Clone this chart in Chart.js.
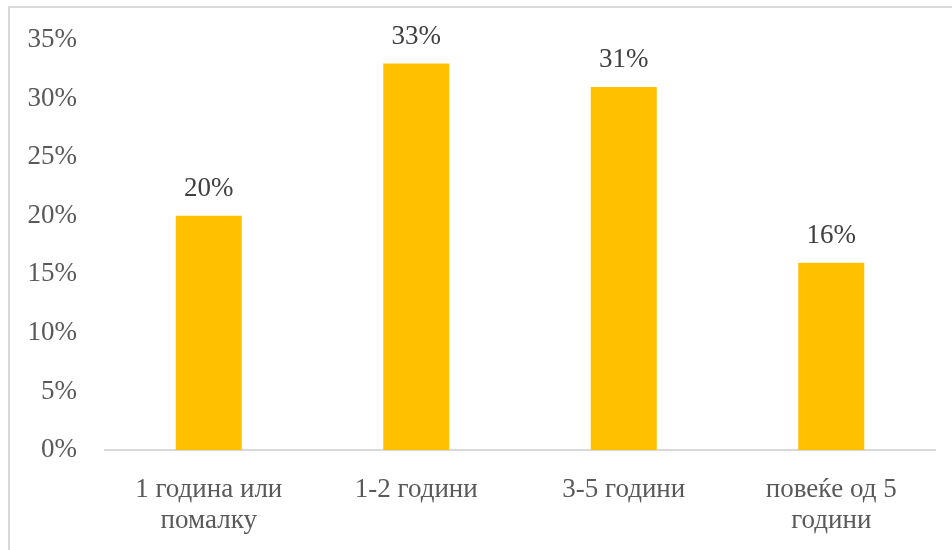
<!DOCTYPE html>
<html>
<head>
<meta charset="utf-8">
<script src="https://cdn.jsdelivr.net/npm/chart.js@4"></script>
<style>
  body { margin: 0; overflow: hidden; background: #fff; }
  #wrap { position: relative; width: 952px; height: 550px; }
  #frame { position: absolute; left: 8px; top: 6px; width: 960px; height: 560px; border: 2px solid #d9d9d9; }
  canvas { position: absolute; left: 0; top: 0; }
</style>
</head>
<body>
<div id="wrap">
  <div id="frame"></div>
  <canvas id="myChart" width="952" height="550"></canvas>
</div>
<script>
'use strict';
let categories = [['1 година или', 'помалку'], '1-2 години', '3-5 години', ['повеќе од 5', 'години']];
let shares = [20, 33, 31, 16];
let yTicks = [0, 5, 10, 15, 20, 25, 30, 35];

let fontFamily = '"Liberation Serif", "Times New Roman", serif';

// value labels above each bar
let barLabels = {
    id: 'barLabels',
    afterDatasetsDraw(chart) {
        let ctx = chart.ctx;
        let meta = chart.getDatasetMeta(0);
        ctx.save();
        ctx.font = '27px ' + fontFamily;
        ctx.fillStyle = '#404040';
        ctx.textAlign = 'center';
        ctx.textBaseline = 'middle';
        meta.data.forEach(function (bar, i) {
            ctx.fillText(shares[i] + '%', bar.x, bar.y - 27);
        });
        ctx.restore();
    }
};

let ctx = document.getElementById('myChart').getContext('2d');
let myChart = new Chart(ctx, {
    type: 'bar',
    data: {
        labels: categories,
        datasets: [{
            data: shares,
            backgroundColor: '#ffc000',
            barPercentage: 0.636,
            categoryPercentage: 0.5
        }]
    },
    options: {
        responsive: false,
        animation: false,
        layout: { padding: { left: 0, right: 17, top: 0, bottom: 0 } },
        plugins: { legend: { display: false }, tooltip: { enabled: false } },
        scales: {
            x: {
                grid: { display: false, drawTicks: false },
                border: { color: '#d9d9d9', width: 2 },
                ticks: {
                    color: '#595959',
                    font: { family: fontFamily, size: 27, lineHeight: 1.15 },
                    padding: 24,
                    maxRotation: 0
                },
                afterFit(scale) { scale.height = 100; }
            },
            y: {
                min: 0,
                max: 35,
                afterBuildTicks(scale) { scale.ticks = yTicks.map(v => ({ value: v })); },
                grid: { display: false, drawTicks: false },
                border: { display: false },
                ticks: {
                    color: '#595959',
                    font: { family: fontFamily, size: 27, lineHeight: 0.9 },
                    padding: 28,
                    callback: v => v + '%'
                },
                afterFit(scale) { scale.width = 105; }
            }
        }
    },
    plugins: [barLabels]
});
</script>
</body>
</html>
